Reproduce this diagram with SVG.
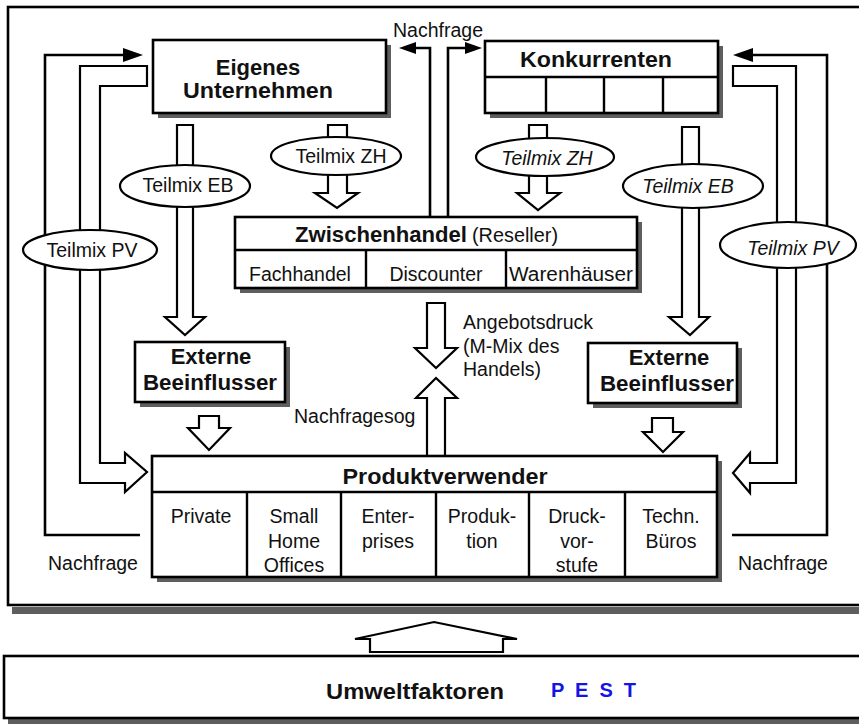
<svg xmlns="http://www.w3.org/2000/svg" width="859" height="725" viewBox="0 0 859 725">
  <style>
    .box { fill: #fff; stroke: #000; stroke-width: 2.6; }
    .sh { fill: #5e5e5e; }
    .div { fill: none; stroke: #000; stroke-width: 2.4; }
    .ln { fill: none; stroke: #000; stroke-width: 2.6; stroke-linejoin: miter; }
    .head { fill: #000; stroke: none; }
    .blk { fill: #fff; stroke: #000; stroke-width: 2.2; stroke-linejoin: miter; }
    .ell { fill: #fff; stroke: #000; stroke-width: 2.2; }
    .t { font-family: "Liberation Sans", Arial, sans-serif; font-size: 19.5px; fill: #111; }
    .b { font-weight: bold; font-size: 22px; }
    .c { text-anchor: middle; }
    .i { font-style: italic; }
  </style>

  <rect width="859" height="725" fill="#fff"/>

  <!-- outer frame with its drop shadow (runs past the right edge) -->
  <g id="frame">
    <rect class="sh" x="12" y="607" width="847" height="7"/>
    <rect class="box" x="8" y="7" width="870" height="598" fill="none"/>
  </g>

  <!-- connectors: demand lines, block arrows and marketing-mix bands -->
  <g id="connectors">
    <!-- Teilmix PV bands (hollow) -->
    <polygon class="blk" points="100,463 100,86 147,86 147,66 80,66 80,483 125,483 125,492 147,472 125,453 125,463"/>
    <polygon class="blk" points="777,463 777,86 733,86 733,66 796,66 796,483 750,483 750,493 733,473 750,453 750,463"/>

    <!-- Nachfrage lines -->
    <path class="ln" d="M140,535 H45 V55 H125"/>
    <polygon class="head" points="123,48 143,55 123,62"/>
    <path class="ln" d="M732,535 H827 V55 H751"/>
    <polygon class="head" points="753,48 733,55 753,62"/>
    <path class="ln" d="M430,217 V48 H413"/>
    <polygon class="head" points="416,42 399,48 416,54"/>
    <path class="ln" d="M448,217 V48 H466"/>
    <polygon class="head" points="465,42 482,48 465,54"/>

    <!-- Teilmix ZH / EB block arrows -->
    <polygon class="blk" points="328,125 347,125 347,193 358,193 337,208 315,193 328,193"/>
    <polygon class="blk" points="529,125 547,125 547,193 560,193 538,210 517,193 529,193"/>
    <polygon class="blk" points="177,125 193,125 193,317 205,317 185,335 165,317 177,317"/>
    <polygon class="blk" points="682,127 699,127 699,317 709,317 690,335 669,317 682,317"/>

    <!-- influencers to users -->
    <polygon class="blk" points="199,416 219,416 219,428 230,428 209,450 188,428 199,428"/>
    <polygon class="blk" points="652,418 673,418 673,432 683,432 663,452 643,432 652,432"/>

    <!-- supply push / demand pull -->
    <polygon class="blk" points="427,303 445,303 445,348 457,348 436,368 415,348 427,348"/>
    <polygon class="blk" points="427,457 445,457 445,398 457,398 436,378 416,398 427,398"/>

    <!-- environment up arrow -->
    <polygon class="blk" points="370,652 503,652 503,639 517,639 434,622 355,639 370,639"/>

    <!-- mix labels -->
    <ellipse class="ell" cx="336" cy="156" rx="65" ry="19"/>
    <text class="t c" x="341" y="163">Teilmix ZH</text>
    <ellipse class="ell" cx="185" cy="186" rx="65" ry="21"/>
    <text class="t c" x="188" y="192">Teilmix EB</text>
    <ellipse class="ell" cx="90" cy="250" rx="67" ry="20"/>
    <text class="t c" x="92" y="257">Teilmix PV</text>
    <ellipse class="ell" cx="545" cy="157" rx="69" ry="19"/>
    <text class="t c i" x="547" y="165">Teilmix ZH</text>
    <ellipse class="ell" cx="693" cy="186" rx="70" ry="22"/>
    <text class="t c i" x="688" y="193">Teilmix EB</text>
    <ellipse class="ell" cx="788" cy="245" rx="68" ry="23"/>
    <text class="t c i" x="793" y="255">Teilmix PV</text>

    <!-- free labels -->
    <text class="t c" x="438" y="37">Nachfrage</text>
    <text class="t" x="48" y="570">Nachfrage</text>
    <text class="t" x="738" y="570">Nachfrage</text>
    <text class="t" x="294" y="423">Nachfragesog</text>
    <text class="t" x="463" y="329">Angebotsdruck</text>
    <text class="t" x="463" y="353">(M-Mix des</text>
    <text class="t" x="463" y="376">Handels)</text>
  </g>

  <g id="eigenes-unternehmen">
    <rect class="sh" x="158" y="45" width="233" height="73"/>
    <rect class="box" x="153" y="40" width="233" height="73"/>
    <text class="t b c" x="258" y="75">Eigenes</text>
    <text class="t b c" x="258" y="98" textLength="150" lengthAdjust="spacingAndGlyphs">Unternehmen</text>
  </g>

  <g id="konkurrenten">
    <rect class="sh" x="490" y="46" width="233" height="72"/>
    <rect class="box" x="485" y="41" width="233" height="72"/>
    <path class="div" d="M485,77 H718 M546,77 V113 M604,77 V113 M663,77 V113"/>
    <text class="t b c" x="596" y="67" textLength="152" lengthAdjust="spacingAndGlyphs">Konkurrenten</text>
  </g>

  <g id="zwischenhandel">
    <rect class="sh" x="240" y="222" width="402" height="71"/>
    <rect class="box" x="235" y="217" width="402" height="71"/>
    <path class="div" d="M235,250 H637 M366,250 V288 M506,250 V288"/>
    <text class="t b" x="295" y="242" textLength="172" lengthAdjust="spacingAndGlyphs">Zwischenhandel</text>
    <text class="t" x="472" y="242" textLength="86" lengthAdjust="spacingAndGlyphs">(Reseller)</text>
    <text class="t c" x="300" y="281">Fachhandel</text>
    <text class="t c" x="436" y="281">Discounter</text>
    <text class="t c" x="571" y="281" textLength="124" lengthAdjust="spacingAndGlyphs">Warenhäuser</text>
  </g>

  <g id="externe-beeinflusser-links">
    <rect class="sh" x="140" y="347" width="150" height="60"/>
    <rect class="box" x="135" y="342" width="150" height="60"/>
    <text class="t b c" x="211" y="364">Externe</text>
    <text class="t b c" x="210" y="390" textLength="134" lengthAdjust="spacingAndGlyphs">Beeinflusser</text>
  </g>

  <g id="externe-beeinflusser-rechts">
    <rect class="sh" x="593" y="348" width="149" height="60"/>
    <rect class="box" x="588" y="343" width="149" height="60"/>
    <text class="t b c" x="669" y="365">Externe</text>
    <text class="t b c" x="667" y="391" textLength="134" lengthAdjust="spacingAndGlyphs">Beeinflusser</text>
  </g>

  <g id="produktverwender">
    <rect class="sh" x="157" y="461" width="565" height="121"/>
    <rect class="box" x="152" y="456" width="565" height="121"/>
    <path class="div" d="M152,492 H717 M247,492 V577 M341,492 V577 M436,492 V577 M529,492 V577 M625,492 V577"/>
    <text class="t b c" x="445" y="484" textLength="205" lengthAdjust="spacingAndGlyphs">Produktverwender</text>
    <text class="t c" x="201" y="523">Private</text>
    <text class="t c" x="294" y="523">Small</text>
    <text class="t c" x="294" y="548">Home</text>
    <text class="t c" x="294" y="572">Offices</text>
    <text class="t c" x="388" y="523">Enter-</text>
    <text class="t c" x="388" y="548">prises</text>
    <text class="t c" x="482" y="523">Produk-</text>
    <text class="t c" x="482" y="548">tion</text>
    <text class="t c" x="577" y="523">Druck-</text>
    <text class="t c" x="577" y="548">vor-</text>
    <text class="t c" x="577" y="572">stufe</text>
    <text class="t c" x="671" y="523">Techn.</text>
    <text class="t c" x="671" y="548">Büros</text>
  </g>

  <g id="umweltfaktoren">
    <rect class="sh" x="8" y="719" width="851" height="5"/>
    <rect class="box" x="4" y="656" width="870" height="62"/>
    <text class="t b" x="326" y="699" font-size="24" textLength="178" lengthAdjust="spacingAndGlyphs">Umweltfaktoren</text>
    <text x="551" y="697" font-family="Liberation Sans, Arial, sans-serif" font-size="20" font-weight="bold" fill="#1414e6" textLength="85" lengthAdjust="spacing">P E S T</text>
  </g>
</svg>
